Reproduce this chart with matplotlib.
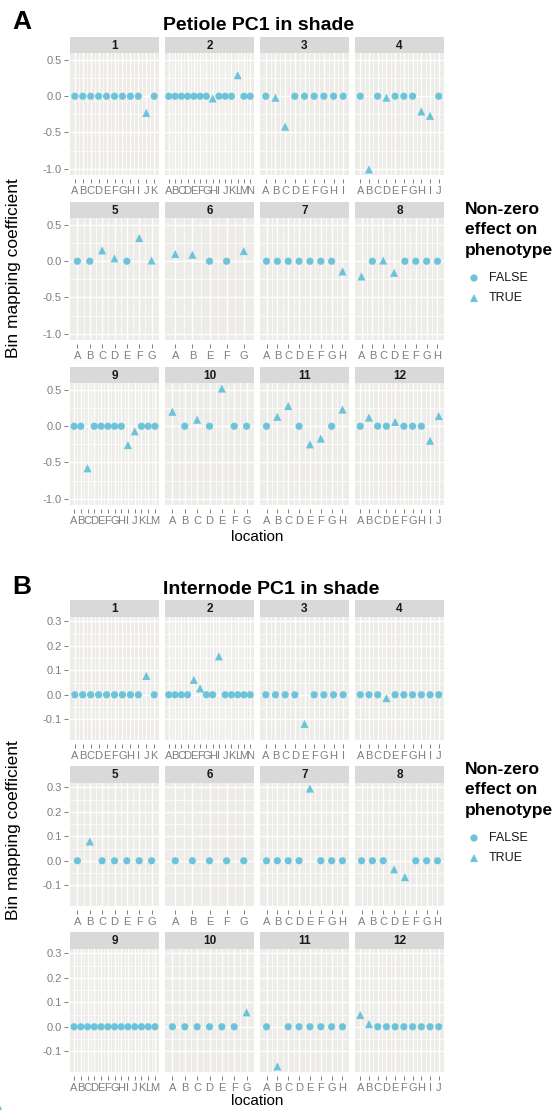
import matplotlib
matplotlib.use('Agg')
import matplotlib.pyplot as plt
import numpy as np

plt.rcParams['font.family'] = ['Liberation Sans', 'DejaVu Sans']

W, H = 559, 1110

chromosomes = [str(i) for i in range(1, 13)]
locations = ["ABCDEFGHIJK", "ABCDEFGHIJKLMN", "ABCDEFGHI", "ABCDEFGHIJ",
             "ABCDEFG", "ABEFG", "ABCDEFGH", "ABCDEFGH",
             "ABCDEFGHIJKLM", "ABCDEFG", "ABCDEFGH", "ABCDEFGHIJ"]

# petiole PC1 in shade, one list per chromosome (0 = no effect)
petiole_coef = [
    [0, 0, 0, 0, 0, 0, 0, 0, 0, -0.23, 0],
    [0, 0, 0, 0, 0, 0, 0, -0.03, 0, 0, 0, 0.29, 0, 0],
    [0, -0.02, -0.42, 0, 0, 0, 0, 0, 0],
    [0, -1.01, 0, -0.02, 0, 0, 0, -0.21, -0.27, 0],
    [0, 0, 0.15, 0.04, 0, 0.32, 0.01],
    [0.10, 0.09, 0, 0, 0.14],
    [0, 0, 0, 0, 0, 0, 0, -0.14],
    [-0.21, 0, 0.01, -0.16, 0, 0, 0, 0],
    [0, 0, -0.58, 0, 0, 0, 0, 0, -0.26, -0.07, 0, 0, 0],
    [0.20, 0, 0.09, 0, 0.52, 0, 0],
    [0, 0.13, 0.28, 0, -0.25, -0.17, 0, 0.23],
    [0, 0.12, 0, 0, 0.06, 0, 0, 0, -0.20, 0.14],
]

# internode PC1 in shade
internode_coef = [
    [0, 0, 0, 0, 0, 0, 0, 0, 0, 0.077, 0],
    [0, 0, 0, 0, 0.061, 0.026, 0, 0, 0.157, 0, 0, 0, 0, 0],
    [0, 0, 0, 0, -0.119, 0, 0, 0, 0],
    [0, 0, 0, -0.014, 0, 0, 0, 0, 0, 0],
    [0, 0.079, 0, 0, 0, 0, 0],
    [0, 0, 0, 0, 0],
    [0, 0, 0, 0, 0.295, 0, 0, 0],
    [0, 0, 0, -0.035, -0.067, 0, 0, 0],
    [0, 0, 0, 0, 0, 0, 0, 0, 0, 0, 0, 0, 0],
    [0, 0, 0, 0, 0, 0, 0.059],
    [0, -0.162, 0, 0, 0, 0, 0, 0],
    [0.048, 0.011, 0, 0, 0, 0, 0, 0, 0, 0],
]

petiole_ticks = [-1.0, -0.5, 0.0, 0.5]
internode_ticks = [-0.1, 0.0, 0.1, 0.2, 0.3]

POINT = '#6CC4DA'
PANEL = '#EEECE8'
STRIP = '#D9D9D9'
GREY = '#7F7F7F'

col_left = [70, 165, 260, 355]
col_w = 89


def px(l, t, w, h):
    return [l / W, 1 - (t + h) / H, w / W, h / H]


def draw_block(fig, coefs, yticks, strip_top, pitch, strip_h, panel_h):
    allv = np.concatenate([np.array(c, dtype=float) for c in coefs])
    lo, hi = allv.min(), allv.max()
    pad = (hi - lo) * 0.05
    ylim = (lo - pad, hi + pad)
    minor = [(a + b) / 2 for a, b in zip(yticks[:-1], yticks[1:])]
    for k, (chrom, locs, vals) in enumerate(zip(chromosomes, locations, coefs)):
        r, c = divmod(k, 4)
        top = strip_top + r * pitch
        sax = fig.add_axes(px(col_left[c], top, col_w, strip_h))
        sax.set_facecolor(STRIP)
        sax.set_xticks([])
        sax.set_yticks([])
        for s in sax.spines.values():
            s.set_visible(False)
        sax.text(0.5, 0.45, chrom, ha='center', va='center', fontsize=8.5,
                 fontweight='bold', color='#1A1A1A', transform=sax.transAxes)

        ax = fig.add_axes(px(col_left[c], top + strip_h, col_w, panel_h))
        ax.set_facecolor(PANEL)
        n = len(locs)
        x = np.arange(n)
        v = np.array(vals, dtype=float)
        ax.set_xlim(-0.6, n - 1 + 0.6)
        ax.set_ylim(*ylim)
        ax.set_xticks(x)
        ax.set_xticklabels(list(locs))
        ax.set_xticks(x[:-1] + 0.5, minor=True)
        ax.set_yticks(yticks)
        ax.set_yticks(minor, minor=True)
        ax.grid(which='major', color='white', lw=1.0)
        ax.grid(which='minor', color='white', lw=0.5)
        ax.set_axisbelow(True)
        for s in ax.spines.values():
            s.set_visible(False)
        ax.spines['bottom'].set_position(('outward', 3))
        ax.spines['left'].set_position(('outward', 1.5))
        ax.tick_params(axis='x', which='major', length=3, width=0.7,
                       color=GREY, labelcolor=GREY, labelsize=8, pad=2)
        ax.tick_params(axis='y', which='major', length=3, width=0.7,
                       color=GREY, labelcolor=GREY, labelsize=8, pad=1.5)
        ax.tick_params(which='minor', length=0)
        if c == 0:
            ax.set_yticklabels(['%.1f' % t for t in yticks])
        else:
            ax.tick_params(axis='y', which='major', length=0, labelleft=False)
        eff = v != 0
        ax.scatter(x[~eff], v[~eff], s=27, marker='o', color=POINT,
                   edgecolors='none', zorder=3, clip_on=False)
        ax.scatter(x[eff], v[eff], s=34, marker='^', color=POINT,
                   edgecolors='none', zorder=3, clip_on=False)


fig = plt.figure(figsize=(W / 100, H / 100), dpi=100)
fig.patch.set_facecolor('white')

draw_block(fig, petiole_coef, petiole_ticks, 37, 165, 16, 122)
draw_block(fig, internode_coef, internode_ticks, 600, 166, 17, 123)

ov = fig.add_axes([0, 0, 1, 1])
ov.set_xlim(0, W)
ov.set_ylim(H, 0)
ov.axis('off')
ov.patch.set_alpha(0)

for tag, ty, title, ylab_y, xlab_y, leg_y in [
        ('A', 22, 'Petiole PC1 in shade', 268, 537, 210),
        ('B', 587, 'Internode PC1 in shade', 830, 1101, 770)]:
    ov.text(12, ty, tag, fontsize=19, fontweight='bold', ha='left', va='center')
    ov.text(163, ty + 3, title, fontsize=14, fontweight='bold', ha='left',
            va='center')
    ov.text(14, ylab_y, 'Bin mapping coefficient', fontsize=12.5,
            rotation=90, ha='center', va='center')
    ov.text(257, xlab_y, 'location', fontsize=11, ha='center', va='center')
    for i, line in enumerate(['Non-zero', 'effect on', 'phenotype']):
        ov.text(465, leg_y + 20 * i, line, fontsize=12.5, fontweight='bold',
                ha='left', va='center')
    ov.scatter([474], [leg_y + 68], s=27, marker='o', color=POINT,
               edgecolors='none')
    ov.scatter([474], [leg_y + 88], s=34, marker='^', color=POINT,
               edgecolors='none')
    ov.text(489, leg_y + 68, 'FALSE', fontsize=9, ha='left', va='center',
            color='#1A1A1A')
    ov.text(489, leg_y + 88, 'TRUE', fontsize=9, ha='left', va='center',
            color='#1A1A1A')

fig.savefig('out.png', dpi=100)
